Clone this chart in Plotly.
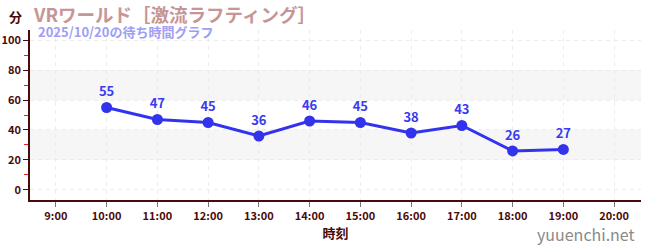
import plotly.graph_objects as go

hours = [10, 11, 12, 13, 14, 15, 16, 17, 18, 19]
waits = [55, 47, 45, 36, 46, 45, 38, 43, 26, 27]
tick_vals = [9, 10, 11, 12, 13, 14, 15, 16, 17, 18, 19, 20]
tick_text = ["9:00", "10:00", "11:00", "12:00", "13:00", "14:00", "15:00", "16:00", "17:00", "18:00", "19:00", "20:00"]
y_ticks = [0, 20, 40, 60, 80, 100]
title_text = "VRワールド［激流ラフティング］"
subtitle_text = "2025/10/20の待ち時間グラフ"

FONT = "Noto Sans CJK JP"
AX = "#4a0a0a"

fig = go.Figure()
fig.add_trace(go.Scatter(
    x=hours, y=waits, mode="lines+markers+text",
    text=["<b>%d</b>" % v for v in waits], textposition="top center",
    textfont=dict(family=FONT, size=13, color="#3a3aee"),
    line=dict(color="#3333ee", width=3),
    marker=dict(color="#3333ee", size=11),
    hoverinfo="skip", cliponaxis=False,
))

shapes = []
for y0, y1 in [(20, 40), (60, 80)]:
    shapes.append(dict(type="rect", xref="paper", yref="y", x0=0, x1=1, y0=y0, y1=y1,
                       fillcolor="#f6f6f6", line=dict(width=0), layer="below"))

fig.update_layout(
    width=650, height=250,
    margin=dict(l=30, r=9, t=30, b=50),
    plot_bgcolor="white", paper_bgcolor="white",
    showlegend=False,
    shapes=shapes,
    font=dict(family=FONT, color=AX),
    xaxis=dict(
        range=[8.49, 20.53], tickvals=tick_vals, ticktext=["<b>%s</b>" % t for t in tick_text],
        showline=True, linecolor=AX, linewidth=1.5,
        ticks="outside", ticklen=5, tickcolor="#777777",
        tickfont=dict(family=FONT, size=11, color=AX),
        showgrid=True, gridcolor="#ececec", griddash="4px,4px", gridwidth=1,
        zeroline=False, automargin=False,
        title=dict(text="<b>時刻</b>", font=dict(family=FONT, size=13, color=AX), standoff=6),
    ),
    yaxis=dict(
        range=[-6.7, 106.7], tickvals=y_ticks, ticktext=["<b>%d</b>" % v for v in y_ticks],
        showline=True, linecolor=AX, linewidth=1.5,
        ticks="outside", ticklen=5, tickcolor=AX,
        tickfont=dict(family=FONT, size=11, color=AX),
        showgrid=True, gridcolor="#ececec", griddash="4px,4px", gridwidth=1,
        zeroline=False, automargin=False,
        minor=dict(tickvals=[10, 30, 50, 70, 90], ticks="outside", ticklen=4,
                   tickcolor="#dd2222", showgrid=False),
    ),
    annotations=[
        dict(text="<b>分</b>", xref="paper", yref="paper", x=0.0, xshift=-6,
             y=1.0, yshift=14, xanchor="right", yanchor="middle", showarrow=False,
             font=dict(family=FONT, size=13, color=AX)),
        dict(text="<b>" + title_text + "</b>", xref="paper", yref="paper", x=0.0, xshift=1,
             y=1.0, yshift=16, xanchor="left", yanchor="middle", showarrow=False,
             font=dict(family=FONT, size=18.5, color="#c79595")),
        dict(text="<b>" + subtitle_text + "</b>", xref="paper", yref="paper", x=0.0, xshift=6,
             y=1.0, yshift=-1, xanchor="left", yanchor="middle", showarrow=False,
             font=dict(family=FONT, size=13, color="#9e9ef5")),
        dict(text="yuuenchi.net", xref="paper", yref="paper", x=1.0, xshift=-4,
             y=0, yshift=-34, xanchor="right", yanchor="middle", showarrow=False,
             font=dict(family=FONT, size=16, color="#8a8a8a")),
    ],
)

fig.write_html("out.html")
